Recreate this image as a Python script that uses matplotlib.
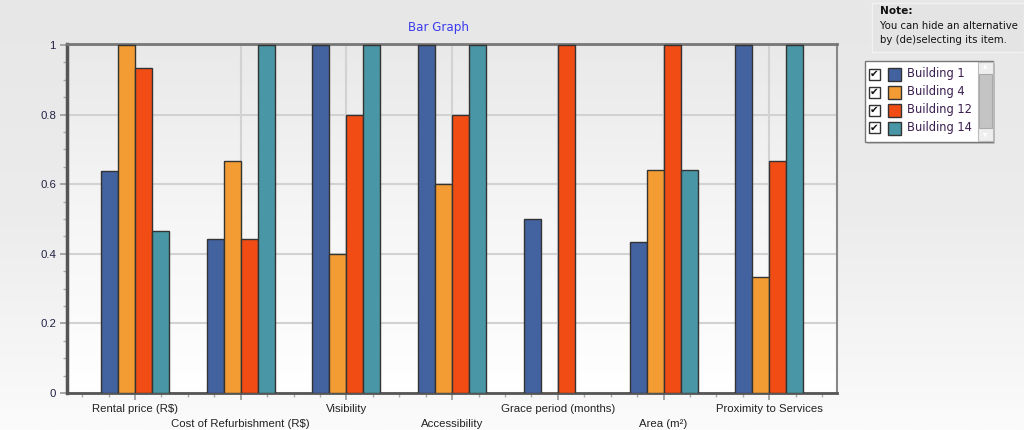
import numpy as np
import matplotlib.pyplot as plt
from matplotlib.colors import LinearSegmentedColormap
from matplotlib.patches import Rectangle
from matplotlib.ticker import MultipleLocator

criteria = ["Rental price (R$)", "Cost of Refurbishment (R$)", "Visibility",
            "Accessibility", "Grace period (months)", "Area (m²)",
            "Proximity to Services"]
buildings = ["Building 1", "Building 4", "Building 12", "Building 14"]
building_1 = [0.637, 0.444, 1.0, 1.0, 0.5, 0.433, 1.0]
building_4 = [1.0, 0.667, 0.4, 0.6, 0.0, 0.64, 0.333]
building_12 = [0.933, 0.444, 0.8, 0.8, 1.0, 1.0, 0.667]
building_14 = [0.467, 1.0, 1.0, 1.0, 0.0, 0.64, 1.0]
colors = ["#4262a0", "#f39c34", "#f04c14", "#4896a6"]

series = [building_1, building_4, building_12, building_14]

W, H = 1024, 430
fig = plt.figure(figsize=(W / 100, H / 100), dpi=100)


def px(x, y):
    # pixel position (from top-left) -> figure fraction
    return x / W, 1 - y / H


# figure background: soft vertical gradient
bg = fig.add_axes([0, 0, 1, 1], zorder=-10)
grad = np.linspace(0, 1, 256)[:, None]
bg.imshow(grad, aspect="auto", extent=[0, 1, 0, 1], origin="upper",
          cmap=LinearSegmentedColormap.from_list("bg", ["#e7e7e7", "#ececec", "#fbfbfb"]))
bg.set_axis_off()

ax = fig.add_axes([67 / W, 1 - 393 / H, (837 - 67) / W, (393 - 44) / H])
ax.set_facecolor("none")

# plot area gradient
ax.imshow(grad, aspect="auto", extent=[-0.643, 6.64, 0, 1.003], origin="upper",
          cmap=LinearSegmentedColormap.from_list("pa", ["#e9e9e9", "#f6f6f6", "#ffffff"]),
          zorder=0)

x = np.arange(len(criteria))
width = 0.161
for i, (vals, c) in enumerate(zip(series, colors)):
    bars = ax.bar(x + (i - 1.5) * width, vals, width, color=c, edgecolor="#333333",
                  linewidth=1.0, zorder=3)
    for b, v in zip(bars, vals):
        if v == 0:
            b.set_edgecolor(c)
            b.set_alpha(0.35)

ax.set_xlim(-0.643, 6.64)
ax.set_ylim(0, 1.003)

ax.set_xticks(x)
ax.set_xticklabels(criteria, fontsize=8.2, family="Liberation Sans", color="#222222")
# stagger the category labels over two rows
for i, tick in enumerate(ax.xaxis.get_major_ticks()):
    tick.set_pad(3 + (10.8 if i % 2 else 0))
ax.xaxis.set_minor_locator(MultipleLocator(0.25))
ax.set_yticks(np.arange(0, 1.01, 0.2))
ax.set_yticklabels(["0", "0.2", "0.4", "0.6", "0.8", "1"], fontsize=8.2,
                   family="Liberation Sans", color="#222244")
ax.yaxis.set_minor_locator(MultipleLocator(0.05))
ax.tick_params(which="major", length=5, width=1.2, color="#999999")
ax.tick_params(axis="y", which="major", pad=3)
ax.tick_params(which="minor", length=3, width=1.0, color="#aaaaaa")

ax.grid(True, which="major", color="#d2d2d2", linewidth=1.5, zorder=1)
ax.set_axisbelow(True)

ax.spines["left"].set_color("#555555")
ax.spines["left"].set_linewidth(2.5)
ax.spines["bottom"].set_color("#555555")
ax.spines["bottom"].set_linewidth(2.0)
ax.spines["top"].set_color("#777777")
ax.spines["top"].set_linewidth(2.0)
ax.spines["right"].set_color("#888888")
ax.spines["right"].set_linewidth(1.5)

fig.text(*px(438, 28), "Bar Graph", fontsize=8.6, color="#3a3af0", ha="center",
         va="center", family="DejaVu Sans")

# note box
nx, ny = px(872, 52)
fig.add_artist(Rectangle((nx, ny), (W - 872) / W, 49 / H, transform=fig.transFigure,
                         facecolor="#e4e4e4", edgecolor="#f2f2f2", linewidth=1))
fig.text(*px(880, 11), "Note:", fontsize=7.6, fontweight="bold", va="center",
         family="DejaVu Sans", color="#111111")
fig.text(*px(880, 26), "You can hide an alternative", fontsize=7.3, va="center",
         family="DejaVu Sans", color="#111111")
fig.text(*px(880, 40), "by (de)selecting its item.", fontsize=7.3, va="center",
         family="DejaVu Sans", color="#111111")

# legend list box with shadow and scrollbar
lx, ly = px(865, 142)
fig.add_artist(Rectangle((lx + 2 / W, ly - 2 / H), 128 / W, 81 / H, transform=fig.transFigure,
                         facecolor="#c8c8c8", edgecolor="none"))
fig.add_artist(Rectangle((lx, ly), 128 / W, 81 / H, transform=fig.transFigure,
                         facecolor="white", edgecolor="#777777", linewidth=1))
sx, sy = px(978, 141)
fig.add_artist(Rectangle((sx, sy), 15 / W, 79 / H, transform=fig.transFigure,
                         facecolor="#eeeeee", edgecolor="#bbbbbb", linewidth=0.8))
tx, ty = px(979, 128)
fig.add_artist(Rectangle((tx, ty), 13 / W, 54 / H, transform=fig.transFigure,
                         facecolor="#c4c4c4", edgecolor="#aaaaaa", linewidth=0.8))
fig.text(*px(985.5, 67), "▲", fontsize=4, color="#ffffff", ha="center", va="center")
fig.text(*px(985.5, 136), "▼", fontsize=4, color="#ffffff", ha="center", va="center")

for i, (name, c) in enumerate(zip(buildings, colors)):
    yc = 74 + i * 18
    bx, by = px(869, yc + 5.5)
    fig.add_artist(Rectangle((bx, by), 11 / W, 11 / H, transform=fig.transFigure,
                             facecolor="white", edgecolor="#333333", linewidth=1))
    fig.text(*px(874.5, yc), "✔", fontsize=7.5, color="#111111", ha="center",
             va="center", family="DejaVu Sans")
    cx, cy = px(888, yc + 6.5)
    fig.add_artist(Rectangle((cx, cy), 13 / W, 13 / H, transform=fig.transFigure,
                             facecolor=c, edgecolor="#333333", linewidth=1))
    fig.text(*px(907, yc), name, fontsize=8.3, va="center", family="DejaVu Sans",
             color="#3b1f50")

fig.savefig("out.png", dpi=100)
